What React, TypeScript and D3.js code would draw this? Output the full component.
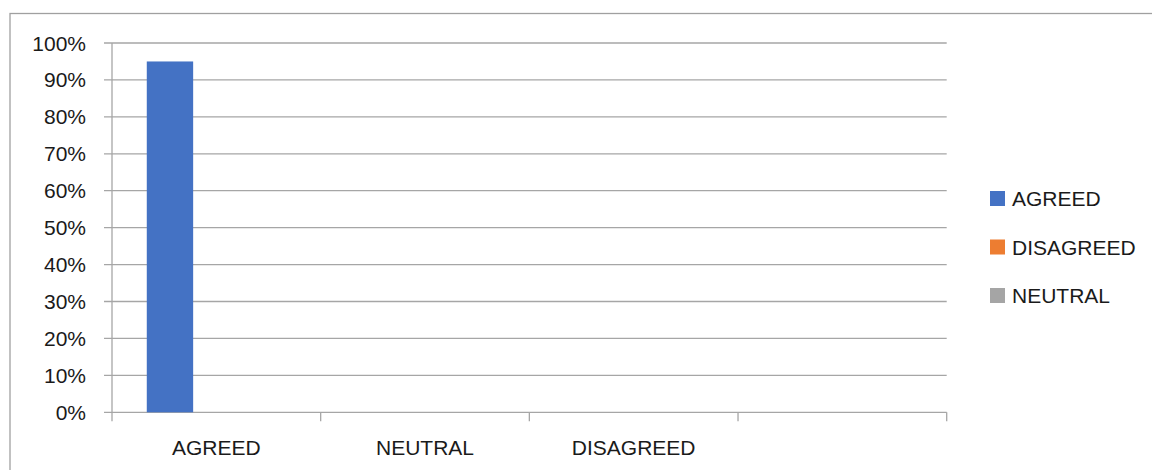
import React from "react";
import * as d3 from "d3";

const categories = ["AGREED", "NEUTRAL", "DISAGREED", ""];
const seriesNames = ["AGREED", "DISAGREED", "NEUTRAL"];
const agreedValues = [0.95, 0, 0, 0];
const disagreedValues = [0, 0, 0, 0];
const neutralValues = [0, 0, 0, 0];
const seriesValues = [agreedValues, disagreedValues, neutralValues];
const seriesColors = ["#4472C4", "#ED7D31", "#A5A5A5"];
const yTicks = [0, 0.1, 0.2, 0.3, 0.4, 0.5, 0.6, 0.7, 0.8, 0.9, 1.0];

const W = 1152;
const H = 470;
const FONT = "'Liberation Sans', Arial, sans-serif";
const FS = 21;

export default function App() {
  const left = 112;
  const right = 946.7;
  const top = 43;
  const bottom = 412.3;

  const x = d3.scaleBand<string>().domain(categories.map((c, i) => String(i))).range([left, right]).paddingInner(0).paddingOuter(0);
  const bw = x.bandwidth();
  const gap = 1.5; // gap width 150%
  const barW = bw / (seriesNames.length + gap);
  const xs = d3
    .scaleBand<string>()
    .domain(seriesNames)
    .range([(gap / 2) * barW, bw - (gap / 2) * barW])
    .padding(0);
  const y = d3.scaleLinear().domain([0, 1]).range([bottom, top]);
  const fmt = d3.format(".0%");

  const gridColor = "#A6A6A6";

  return (
    <svg width={W} height={H} style={{ position: "absolute", left: 0, top: 0, background: "#fff" }}>
      <rect x={0} y={0} width={W} height={H} fill="#fff" />
      {/* outer border */}
      <rect x={10} y={13.5} width={W + 10} height={H + 10} fill="none" stroke="#A0A0A0" strokeWidth={1.3} />
      {/* gridlines */}
      {yTicks.map((t) => (
        <line key={"g" + t} x1={104} x2={right} y1={y(t)} y2={y(t)} stroke={gridColor} strokeWidth={1.3} />
      ))}
      {/* y axis line */}
      <line x1={left} x2={left} y1={top} y2={bottom} stroke={gridColor} strokeWidth={1.3} />
      {/* category ticks */}
      {categories.map((c, i) => (
        <line key={"t" + i} x1={x(String(i))!} x2={x(String(i))!} y1={bottom} y2={bottom + 9} stroke={gridColor} strokeWidth={1.3} />
      ))}
      <line x1={right} x2={right} y1={bottom} y2={bottom + 9} stroke={gridColor} strokeWidth={1.3} />
      {/* bars */}
      {seriesNames.map((s, si) =>
        seriesValues[si].map((v, ci) =>
          v > 0 ? (
            <rect
              key={s + ci}
              x={x(String(ci))! + xs(s)!}
              y={y(v)}
              width={xs.bandwidth()}
              height={y(0) - y(v)}
              fill={seriesColors[si]}
            />
          ) : null
        )
      )}
      {/* y labels */}
      {yTicks.map((t) => (
        <text key={"l" + t} x={86} y={y(t)} dy="0.36em" textAnchor="end" fontFamily={FONT} fontSize={FS} fill="#1a1a1a">
          {fmt(t)}
        </text>
      ))}
      {/* x labels */}
      {categories.map((c, i) => (
        <text key={"c" + i} x={x(String(i))! + bw / 2} y={455} textAnchor="middle" fontFamily={FONT} fontSize={FS} fill="#1a1a1a">
          {c}
        </text>
      ))}
      {/* legend */}
      {seriesNames.map((s, i) => (
        <g key={"lg" + s} transform={`translate(990, ${191 + i * 48.5})`}>
          <rect x={0} y={0} width={15} height={15} fill={seriesColors[i]} />
          <text x={22} y={15} fontFamily={FONT} fontSize={FS} fill="#1a1a1a">
            {s}
          </text>
        </g>
      ))}
    </svg>
  );
}
